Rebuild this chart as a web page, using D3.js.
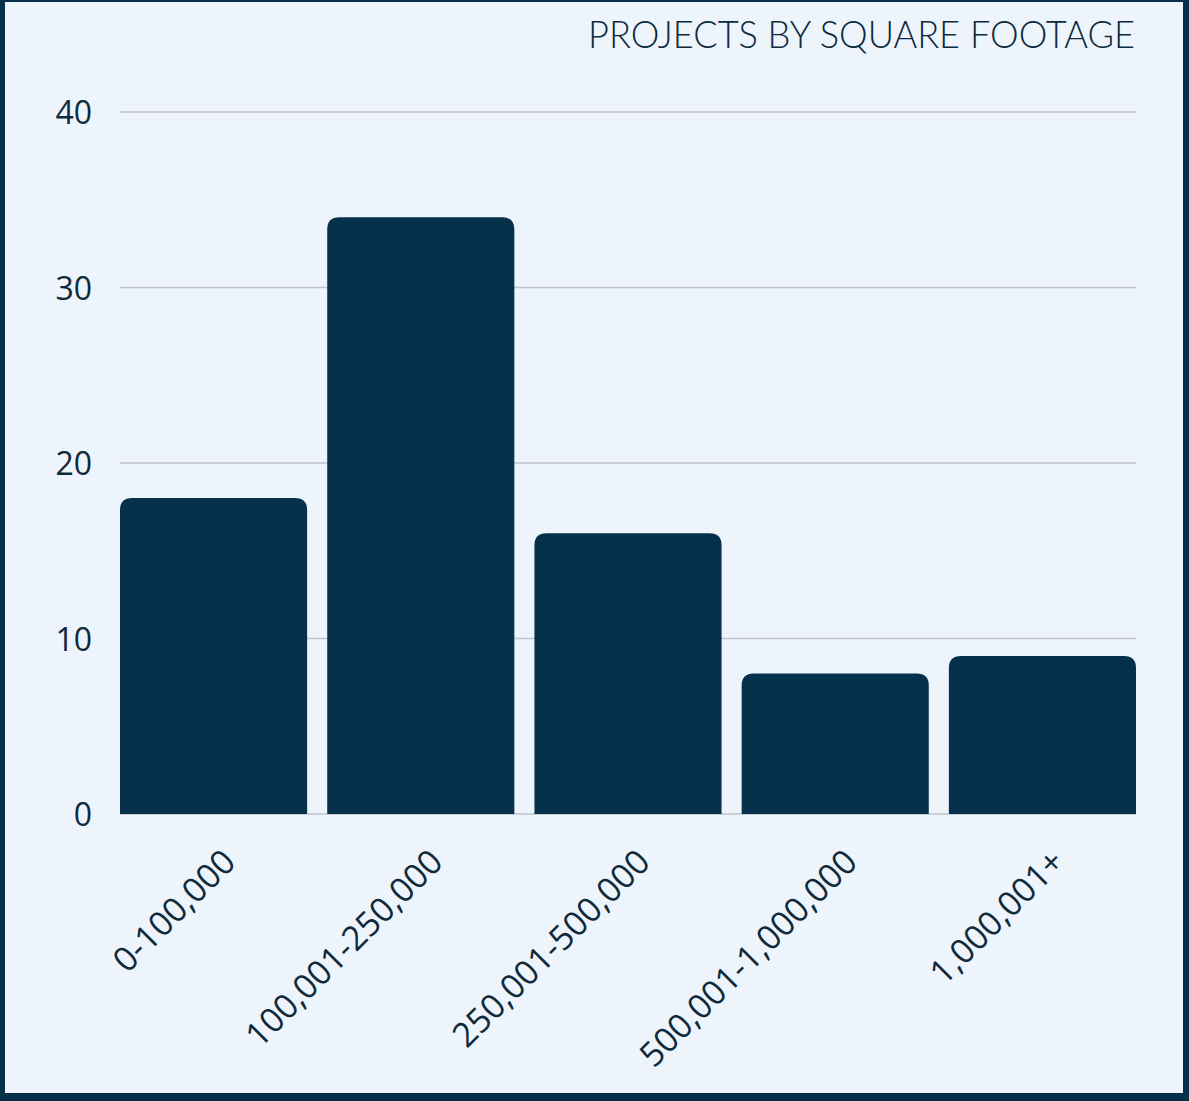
<!DOCTYPE html>
<html>
<head>
<meta charset="utf-8">
<script src="https://cdn.jsdelivr.net/npm/d3@7/dist/d3.min.js"></script>
<style>
  html, body { margin: 0; padding: 0; background: #eef4fb; }
  svg { display: block; }
</style>
</head>
<body>
<svg id="chart" width="1189" height="1101"></svg>
<script>
const categories = ["0-100,000", "100,001-250,000", "250,001-500,000", "500,001-1,000,000", "1,000,001+"];
const projects = [18, 34, 16, 8, 9];
const yTicks = [0, 10, 20, 30, 40];
const title = "PROJECTS BY SQUARE FOOTAGE";

const W = 1189, H = 1101;
const svg = d3.select("#chart");
const navy = "#06314b";

// background & frame
svg.append("rect").attr("x", 0).attr("y", 0).attr("width", W).attr("height", H).attr("fill", navy);
svg.append("rect").attr("x", 5).attr("y", 2).attr("width", W - 5 - 6).attr("height", H - 2 - 8).attr("fill", "#eef4fb");

const x = d3.scaleBand().domain(categories).range([120, 1136]).paddingInner(0.097).paddingOuter(0);
const y = d3.scaleLinear().domain([0, 40]).range([814, 112]);

// gridlines
svg.append("g").selectAll("line").data(yTicks).join("line")
  .attr("x1", 120).attr("x2", 1136)
  .attr("y1", d => y(d)).attr("y2", d => y(d))
  .attr("stroke", "#bfc4cd").attr("stroke-width", 1.5);

// y axis labels
const yAxis = d3.axisLeft(y).tickValues(yTicks).tickSize(0).tickPadding(0).tickFormat(d3.format("d"));
const gy = svg.append("g").attr("transform", "translate(92,0)").call(yAxis);
gy.select(".domain").remove();
gy.selectAll("text")
  .attr("font-family", "'Open Sans', sans-serif")
  .attr("font-size", 32)
  .attr("fill", "#0f2b3b")
  .attr("dy", "0.36em");

// bars with rounded top corners
const r = 12;
function barPath(d, i) {
  const x0 = x(categories[i]), w = x.bandwidth();
  const yt = y(d), yb = y(0);
  const rr = Math.min(r, (yb - yt));
  return `M${x0},${yb} L${x0},${yt + rr} Q${x0},${yt} ${x0 + rr},${yt} L${x0 + w - rr},${yt} Q${x0 + w},${yt} ${x0 + w},${yt + rr} L${x0 + w},${yb} Z`;
}
svg.append("g").selectAll("path").data(projects).join("path")
  .attr("d", (d, i) => barPath(d, i))
  .attr("fill", navy);

// x axis labels
const xAxis = d3.axisBottom(x).tickSize(0).tickPadding(0);
const gx = svg.append("g").attr("transform", "translate(0,814)").call(xAxis);
gx.select(".domain").remove();
gx.selectAll("text")
  .attr("font-family", "'Open Sans', sans-serif")
  .attr("font-size", 34)
  .attr("fill", "#0f2b3b")
  .attr("text-anchor", "end")
  .attr("dy", 0)
  .attr("transform", "translate(24,50) rotate(-45)");

// title
svg.append("text")
  .attr("x", 1135).attr("y", 48)
  .attr("text-anchor", "end")
  .attr("font-family", "Lato, sans-serif")
  .attr("font-weight", 300)
  .attr("font-size", 37)
  .attr("fill", "#0c2a40")
  .attr("textLength", 547)
  .attr("lengthAdjust", "spacingAndGlyphs")
  .text(title);
</script>
</body>
</html>
